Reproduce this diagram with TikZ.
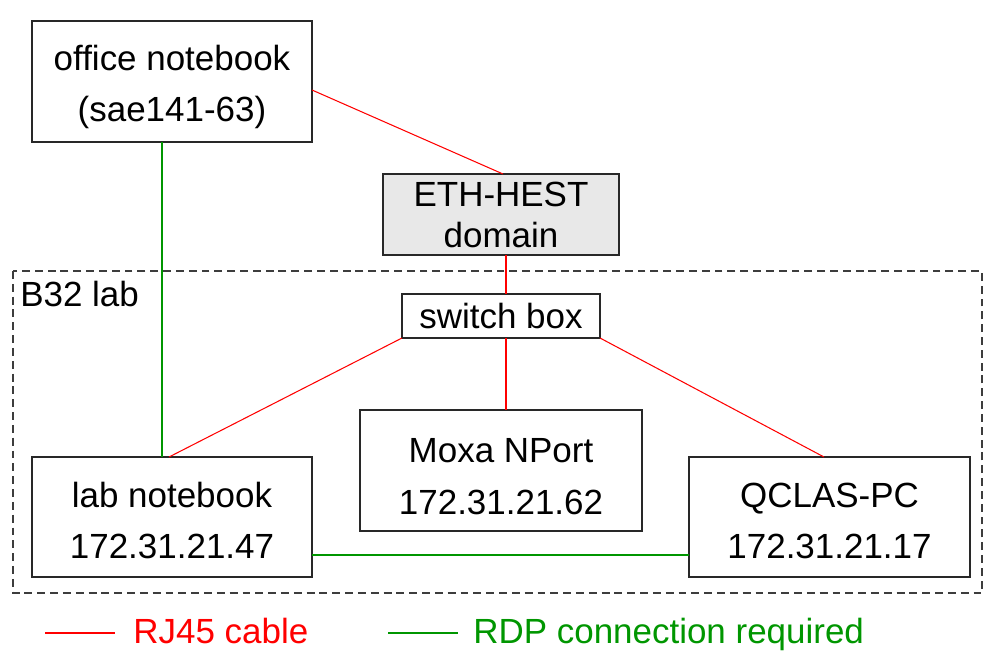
\documentclass[tikz,border=0pt]{standalone}
\usepackage{fontspec}
\setmainfont{Liberation Sans}
\definecolor{rj}{RGB}{255,0,0}
\definecolor{rdp}{RGB}{0,150,0}
\definecolor{boxline}{RGB}{40,40,40}
\definecolor{domfill}{RGB}{232,232,232}
\newcommand{\tallstrut}[1]{\rule{0pt}{#1}}
\begin{document}
\begin{tikzpicture}[x=0.02cm,y=-0.02cm,
  every node/.style={font=\fontsize{19.9pt}{29.3pt}\selectfont},
  devbox/.style={draw=boxline,line width=0.7pt,fill=white,inner sep=0pt,outer sep=0pt,align=center},
  rjline/.style={draw=rj,line width=0.6pt},
  rdpline/.style={draw=rdp,line width=0.6pt},
  labframe/.style={draw=boxline!90,line width=0.6pt,dash pattern=on 4.5pt off 2.8pt}
]
\useasboundingbox (0,0) rectangle (1000,668);

% lab frame
\draw[labframe] (13,271) rectangle (982,593);
\node[anchor=base west,inner sep=0pt] (lablbl) at (20,307) {B32 lab};

% devices
\node[devbox,minimum width=5.6cm,minimum height=2.42cm] (office) at (172,81.5)
  {\tallstrut{0.72cm}office notebook\\(sae141-63)};
\node[devbox,fill=domfill,minimum width=4.72cm,minimum height=1.62cm,
  font=\fontsize{19.9pt}{23.3pt}\selectfont] (eth) at (501,214.5)
  {ETH-HEST\\domain};
\node[devbox,minimum width=3.96cm,minimum height=0.88cm] (switch) at (501,316) {switch box};
\node[devbox,minimum width=5.64cm,minimum height=2.42cm] (moxa) at (501,470.5)
  {\tallstrut{0.72cm}Moxa NPort\\172.31.21.62};
\node[devbox,minimum width=5.6cm,minimum height=2.4cm] (lab) at (172,517)
  {\tallstrut{0.64cm}lab notebook\\172.31.21.47};
\node[devbox,minimum width=5.62cm,minimum height=2.4cm] (qclas) at (829.5,517)
  {\tallstrut{0.64cm}QCLAS-PC\\172.31.21.17};

% RJ45 connections
\draw[rjline] ([yshift=-0.17cm]office.east) -- ([xshift=0.04cm]eth.north);
\draw[rjline] ([xshift=0.1cm]eth.south) -- ([xshift=0.1cm]switch.north);
\draw[rjline] (switch.south west) -- ([xshift=-0.06cm]lab.north);
\draw[rjline] ([xshift=0.1cm]switch.south) -- ([xshift=0.1cm]moxa.north);
\draw[rjline] (switch.south east) -- ([xshift=-0.11cm]qclas.north);

% RDP connections
\draw[rdpline] ([xshift=-0.2cm]office.south) -- ([xshift=-0.2cm]lab.north);
\draw[rdpline] ([yshift=-0.76cm]lab.east) -- ([yshift=-0.76cm]qclas.west);

% legend
\coordinate (rjA) at (45,633);
\coordinate (rjB) at (115,633);
\draw[rjline] (rjA) -- (rjB);
\node[anchor=base west,inner sep=0pt,text=rj] (rjtxt) at (133,643) {RJ45 cable};
\coordinate (rdpA) at (388,633);
\coordinate (rdpB) at (458,633);
\draw[rdpline] (rdpA) -- (rdpB);
\node[anchor=base west,inner sep=0pt,text=rdp] (rdptxt) at (473,643) {RDP connection required};
\end{tikzpicture}
\end{document}
